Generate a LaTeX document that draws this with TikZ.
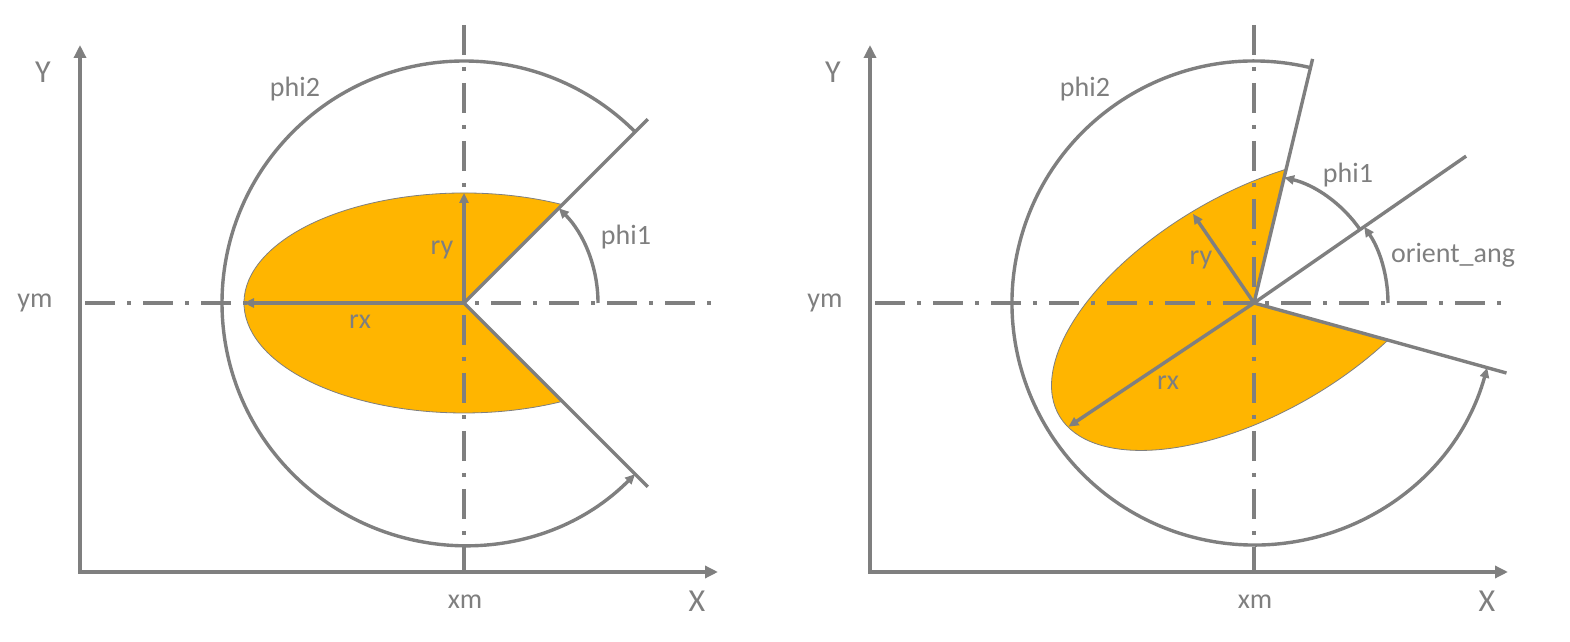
\documentclass[tikz,border=0pt]{standalone}
\usepackage{fontspec}
\setmainfont{Carlito}
\usetikzlibrary{arrows.meta}
\definecolor{linegray}{RGB}{127,127,127}
\definecolor{pieorange}{RGB}{255,181,0}

\begin{document}
\begin{tikzpicture}[
    x=0.5pt, y=0.5pt,
    ln/.style={draw=linegray, line width=1.7pt},
    arr/.style={ln, -{Triangle[length=5pt,width=4.5pt]}},
    ax/.style={draw=linegray, line width=2.1pt, {Triangle[length=6.5pt,width=6pt]}-{Triangle[length=6.5pt,width=6pt]}},
    centre/.style={draw=linegray, line width=1.8pt, dash pattern=on 15pt off 6pt on 2pt off 6pt},
    pie/.style={fill=pieorange, draw=linegray, line width=0.4pt},
    lbl/.style={text=linegray, font=\fontsize{14}{16}\selectfont, inner sep=0pt},
    axlbl/.style={text=linegray, font=\fontsize{16}{18}\selectfont, inner sep=0pt}
  ]
  \useasboundingbox (0,0) rectangle (1570,642);
  \coordinate (m1) at (464,339);
  \coordinate (m2) at (1254,339);
  % filled sectors
  \path[pie] (m1) -- ++(63.43:220 and 110)
    arc[start angle=63.43, end angle=296.57, x radius=220, y radius=110] -- cycle;
  \begin{scope}[shift={(m2)}, rotate=30]
    \path[pie] (0,0) -- (65.1:225 and 110)
      arc[start angle=65.1, end angle=295.7, x radius=225, y radius=110] -- cycle;
  \end{scope}
  % axes, centre lines and common labels
  \foreach \n/\ox in {1/0, 2/790}{
    \begin{scope}[shift={(\ox,0)}]
      \coordinate (o\n) at (80,70);
      \coordinate (ytip\n) at (80,597);
      \coordinate (xtip\n) at (718,70);
      \draw[ax] (ytip\n) -- (o\n) -- (xtip\n);
      \draw[centre] (464,617) -- (464,70);
      \draw[centre] (85,339) -- (722,339);
      \node[axlbl] (ylbl\n) at (43,570) {Y};
      \node[axlbl] (xlbl\n) at (697,41) {X};
      \node[lbl] (ym\n) at (35,339) {ym};
      \node[lbl] (xm\n) at (465,40) {xm};
      \node[lbl] (phitwo\n) at (295,553) {phi2};
    \end{scope}
  }
  % left: phi1 = 45, phi2 = 315
  \path (m1) ++(45:260) coordinate (up1);
  \path (m1) ++(-45:260) coordinate (lo1);
  \path (m1) ++(0,110) coordinate (ry1);
  \path (m1) ++(-220,0) coordinate (rx1);
  \path (m1) ++(0:134) coordinate (phione1);
  \path (m1) ++(45:242) coordinate (bigarc1);
  \draw[ln] (up1) -- (m1) -- (lo1);
  \draw[arr] (m1) -- (ry1);
  \draw[arr] (m1) -- (rx1);
  \draw[arr] (phione1) arc[start angle=0, end angle=45, radius=134];
  \draw[arr] (bigarc1) arc[start angle=45, end angle=315, radius=242];
  \node[lbl] (phi1l) at (626,405) {phi1};
  \node[lbl] (ryl1) at (442,392) {ry};
  \node[lbl] (rxl1) at (360,320) {rx};
  % right: rotated ellipse
  \path (m2) ++(76.5:251) coordinate (up2);
  \path (m2) ++(-15.5:262) coordinate (lo2);
  \path (m2) ++(34.7:258) coordinate (ori2);
  \path (m2) ++(124.4:108) coordinate (ry2);
  \path (m2) ++(213.7:223) coordinate (rx2);
  \path (m2) ++(0:134) coordinate (orarc2);
  \path (m2) ++(34.7:129) coordinate (phione2);
  \path (m2) ++(76.5:242) coordinate (bigarc2);
  \draw[ln] (up2) -- (m2) -- (lo2);
  \draw[ln] (m2) -- (ori2);
  \draw[arr] (m2) -- (ry2);
  \draw[arr] (m2) -- (rx2);
  \draw[arr] (orarc2) arc[start angle=0, end angle=34.7, radius=134];
  \draw[arr] (phione2) arc[start angle=34.7, end angle=76.5, radius=129];
  \draw[arr] (bigarc2) arc[start angle=76.5, end angle=344.5, radius=242];
  \node[lbl] (phi1r) at (1348,467) {phi1};
  \node[lbl] (orient) at (1453,387) {orient\_ang};
  \node[lbl] (ryl2) at (1201,382) {ry};
  \node[lbl] (rxl2) at (1168,259) {rx};
\end{tikzpicture}
\end{document}
